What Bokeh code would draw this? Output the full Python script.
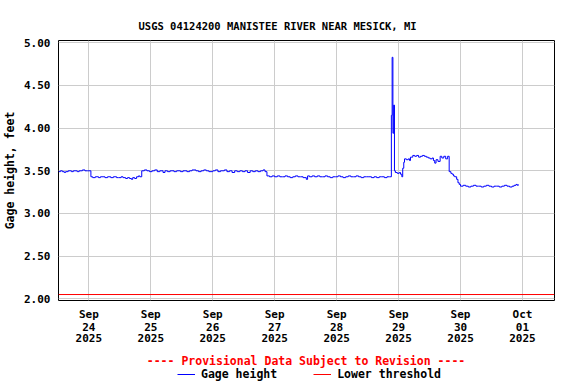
import pandas as pd
from bokeh.plotting import figure
from bokeh.layouts import column
from bokeh.models import (FixedTicker, Range1d, Title, Legend, LegendItem, NumeralTickFormatter,
                          DatetimeAxis, Label)
from bokeh.embed import file_html
from bokeh.resources import INLINE

# ---- data (hours since 2025-09-23 12:00, gage height in feet) ----
start = "2025-09-23 12:00"
hours = [0.25, 1.0, 1.75, 2.5, 3.0, 4.0, 5.25, 6.0, 7.5, 8.25, 9.5, 10.5, 11.5,
         12.8, 13.5, 14.5, 15.75, 16.5, 17.5, 18.25, 19.25, 20.5, 21.5, 22.75, 23.5,
         24.5, 25.25, 26.25, 27.0, 27.75, 28.5, 29.0, 29.75, 30.5, 31.25, 31.75,
         32.5, 33.5, 34.5, 35.5, 36.5, 37.5, 38.5, 39.5, 40.75, 41.5, 42.5, 43.5,
         45, 46, 47.5, 48.5, 50, 51, 52, 53.5, 54.5, 55.5, 56.5, 57.5, 58.5, 60,
         61, 62, 63, 64.5, 65.5, 66.5, 67.5, 68.5, 69.5, 70.5, 71.5, 72.5, 73.5,
         74.5, 75.5, 76.5, 77.5, 78.5, 79.5, 80.25,
         81, 82, 83, 84, 85, 86, 87, 88, 89, 90, 91, 92, 93, 94, 95, 96.25, 96.75,
         97.5, 98.5, 99.5, 100.5, 101.5, 102.5, 103.5, 104.5, 105.5, 106.5, 107.5,
         108.5, 109.5, 110.5, 111.5, 112.5, 113.5, 114.5, 115.5, 116.5, 117.5,
         118.5, 119.5, 120.5, 121.5, 122.5, 123.5, 124.5, 125.5, 126.5, 127.5, 128.5,
         129.2, 129.5, 129.8, 130.1, 130.4,
         130.75, 131.5, 132.25, 132.75, 133.25, 133.6, 134.0, 134.3, 135, 135.75,
         136.25, 136.6, 137.5, 138.25, 139, 139.75, 140.5, 141.25, 142, 142.75,
         143.5, 144.25, 145, 145.5, 146, 146.5, 147.25, 148.1, 148.75, 149.5,
         150.25, 151, 151.6, 152.25, 152.75, 153.25, 153.75, 154.5, 155, 155.5, 156,
         157, 158, 159, 160, 161, 162, 163, 164, 165, 166, 167, 168, 169, 170, 171,
         172, 173, 174, 175, 176, 176.75, 177.5, 178.0, 178.4]
gage = [3.49, 3.50, 3.49, 3.48, 3.49, 3.50, 3.49, 3.50, 3.49, 3.50, 3.51, 3.50, 3.50,
        3.43, 3.42, 3.43, 3.42, 3.43, 3.43, 3.42, 3.43, 3.42, 3.43, 3.42, 3.42,
        3.43, 3.42, 3.41, 3.42, 3.41, 3.40, 3.42, 3.41, 3.43, 3.44, 3.43,
        3.50, 3.51, 3.50, 3.49, 3.50, 3.51, 3.49, 3.50, 3.48, 3.50, 3.49, 3.50,
        3.49, 3.50, 3.49, 3.50, 3.49, 3.50, 3.51, 3.50, 3.49, 3.50, 3.51, 3.50, 3.49, 3.50,
        3.51, 3.49, 3.50, 3.51, 3.49, 3.50, 3.48, 3.50, 3.49, 3.50, 3.49, 3.50, 3.48,
        3.50, 3.49, 3.50, 3.49, 3.50, 3.51, 3.49,
        3.44, 3.43, 3.44, 3.43, 3.44, 3.43, 3.43, 3.44, 3.43, 3.42, 3.43, 3.44, 3.43, 3.43, 3.42, 3.40, 3.44,
        3.43, 3.44, 3.43, 3.44, 3.43, 3.43, 3.44, 3.43, 3.42, 3.43, 3.43,
        3.44, 3.43, 3.42, 3.43, 3.44, 3.43, 3.43, 3.44, 3.43, 3.42,
        3.43, 3.43, 3.43, 3.42, 3.43, 3.42, 3.43, 3.43, 3.42, 3.43, 3.43,
        4.15, 4.83, 3.94, 4.27, 3.50,
        3.48, 3.47, 3.48, 3.46, 3.43, 3.53, 3.60, 3.64, 3.63, 3.64,
        3.62, 3.66, 3.68, 3.67, 3.68, 3.66, 3.67, 3.68, 3.67, 3.66,
        3.65, 3.64, 3.65, 3.62, 3.59, 3.63, 3.61, 3.67, 3.65, 3.67,
        3.64, 3.67, 3.49, 3.47, 3.46, 3.44, 3.43, 3.40, 3.36, 3.34, 3.32,
        3.33, 3.32, 3.31, 3.32, 3.33, 3.32, 3.32, 3.31, 3.32, 3.33, 3.32, 3.31, 3.32, 3.32, 3.31,
        3.32, 3.33, 3.32, 3.31, 3.32, 3.33, 3.34, 3.33, 3.34]
threshold = 2.05
tick_dates = ["2025-09-24", "2025-09-25", "2025-09-26", "2025-09-27",
              "2025-09-28", "2025-09-29", "2025-09-30", "2025-10-01"]
tick_month = ["Sep", "Sep", "Sep", "Sep", "Sep", "Sep", "Sep", "Oct"]
tick_day = ["24", "25", "26", "27", "28", "29", "30", "01"]
tick_year = ["2025", "2025", "2025", "2025", "2025", "2025", "2025", "2025"]
y_ticks = [2.0, 2.5, 3.0, 3.5, 4.0, 4.5, 5.0]
x_start_h, x_end_h = 0.25, 192.4
y_lo, y_hi = 1.98, 5.027

HOUR = 3600000.0
base_ms = pd.Timestamp(start).value / 1e6
xs = [base_ms + h * HOUR for h in hours]
tick_ms = [pd.Timestamp(d).value / 1e6 for d in tick_dates]
x0 = base_ms + x_start_h * HOUR
x1 = base_ms + x_end_h * HOUR

FONT = "DejaVu Sans Mono"

xr = Range1d(x0, x1)
p = figure(frame_width=496, frame_height=260, output_backend="svg", toolbar_location=None,
           x_axis_type="datetime",
           x_range=xr, y_range=Range1d(y_lo, y_hi),
           min_border_left=58, min_border_right=22, min_border_top=40, min_border_bottom=50)

p.title = Title(text="USGS 04124200 MANISTEE RIVER NEAR MESICK, MI", align="left", offset=80,
                text_font=FONT, text_font_size="10.5px", text_font_style="bold",
                text_color="black", standoff=17)

p.outline_line_color = "black"
p.outline_line_width = 1
p.background_fill_color = "white"
p.border_fill_color = "white"

p.step(xs, gage, mode="after", line_color="#0000ff", line_width=1)
p.line([x0, x1], [threshold, threshold], line_color="#ff0000", line_width=1)


def style_axis(ax, labels, standoff):
    ax.ticker = FixedTicker(ticks=tick_ms)
    ax.major_label_overrides = {t: l for t, l in zip(tick_ms, labels)}
    ax.major_label_text_font = FONT
    ax.major_label_text_font_size = "11px"
    ax.major_label_text_font_style = "bold"
    ax.major_label_text_color = "black"
    ax.major_label_standoff = standoff
    ax.major_tick_out = 0
    ax.major_tick_in = 0
    ax.minor_tick_out = 0
    ax.minor_tick_in = 0
    ax.axis_line_color = None
    ax.major_tick_line_color = None
    ax.minor_tick_line_color = None


style_axis(p.xaxis[0], tick_month, 7)
ax_day = DatetimeAxis()
style_axis(ax_day, tick_day, -1)
p.add_layout(ax_day, "below")
ax_year = DatetimeAxis()
style_axis(ax_year, tick_year, 0)
p.add_layout(ax_year, "below")

ya = p.yaxis[0]
ya.ticker = FixedTicker(ticks=y_ticks)
ya.formatter = NumeralTickFormatter(format="0.00")
ya.major_label_text_font = FONT
ya.major_label_text_font_size = "11px"
ya.major_label_text_font_style = "bold"
ya.major_label_text_color = "black"
ya.major_label_standoff = 8
ya.major_tick_out = 0
ya.major_tick_in = 0
ya.minor_tick_out = 0
ya.minor_tick_in = 0
ya.axis_label = "Gage height, feet"
ya.axis_label_text_font = FONT
ya.axis_label_text_font_size = "11.5px"
ya.axis_label_text_font_style = "bold"
ya.axis_label_text_color = "black"
ya.axis_label_standoff = 4
ya.axis_line_color = None
ya.major_tick_line_color = None
ya.minor_tick_line_color = None

p.xgrid.grid_line_color = "#cccccc"
p.ygrid.grid_line_color = "#cccccc"
p.xgrid.ticker = FixedTicker(ticks=tick_ms)
p.ygrid.ticker = FixedTicker(ticks=y_ticks)

# ---- footer: provisional note + legend (series drawn again but outside its view) ----
FOOT_H = 34
FOOT_Y0 = 100.0
f = figure(width=576, height=FOOT_H, output_backend="svg", toolbar_location=None,
           x_axis_type="datetime", x_range=xr, y_range=Range1d(FOOT_Y0, FOOT_Y0 + FOOT_H),
           x_axis_location=None, y_axis_location=None,
           min_border_left=0, min_border_right=0, min_border_top=0, min_border_bottom=0)
f.grid.visible = False
f.outline_line_color = None
f.background_fill_color = "white"
f.border_fill_color = "white"

f.add_layout(Label(x=58, x_units="screen", x_offset=247.5 - 58, y=FOOT_Y0 + FOOT_H - 10,
                   text="---- Provisional Data Subject to Revision ----",
                   text_align="center", text_baseline="middle",
                   text_font=FONT, text_font_size="11.5px", text_font_style="bold",
                   text_color="#ff0000"))

lg_gage = f.step(xs, gage, mode="after", line_color="#0000ff", line_width=1)
lg_thr = f.line([x0, x1], [threshold, threshold], line_color="#ff0000", line_width=1)
legend = Legend(items=[LegendItem(label="Gage height", renderers=[lg_gage]),
                       LegendItem(label="Lower threshold", renderers=[lg_thr])],
                orientation="horizontal", location=(119, 3),
                glyph_width=18, glyph_height=10, label_height=10, label_standoff=6,
                spacing=36, padding=0, margin=0, border_line_color=None,
                background_fill_alpha=0,
                label_text_font=FONT, label_text_font_size="11.5px",
                label_text_font_style="bold", label_text_color="black")
f.add_layout(legend, "center")

layout = column(p, f, spacing=0)
open("out.html", "w").write(file_html(layout, INLINE))
